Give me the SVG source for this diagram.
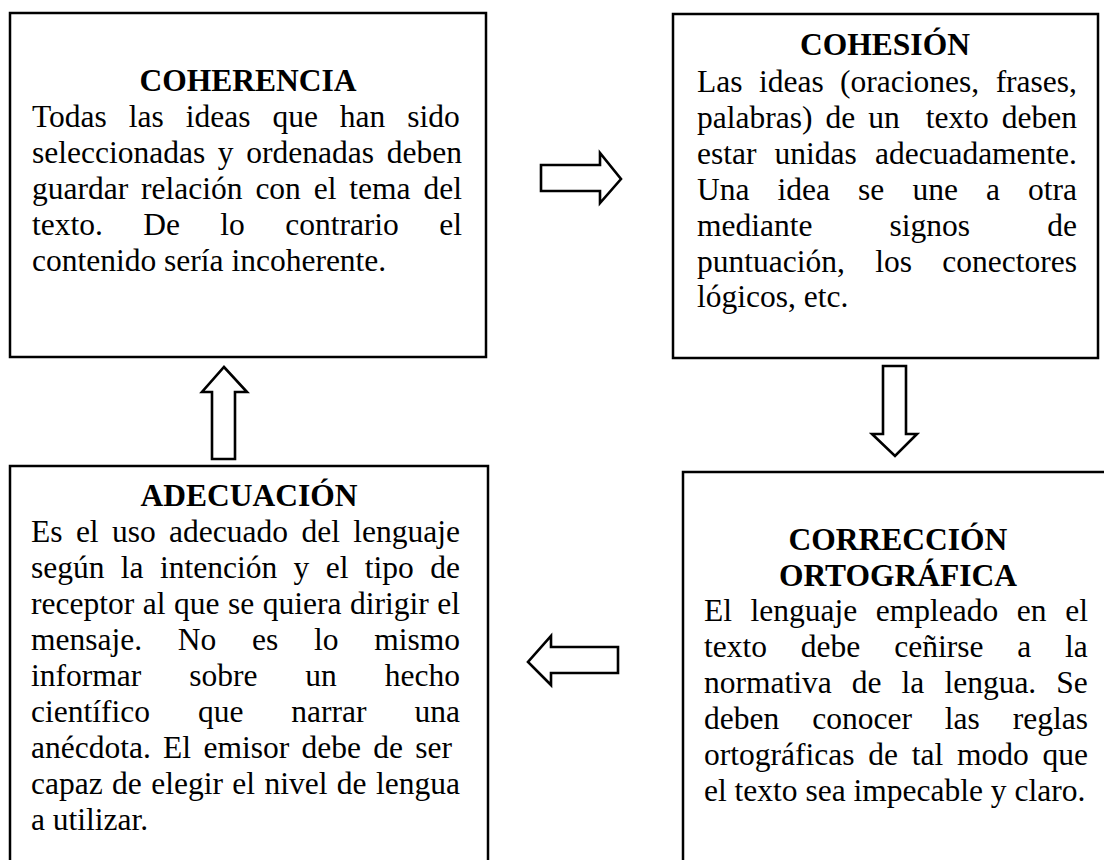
<svg xmlns="http://www.w3.org/2000/svg" width="1104" height="860" viewBox="0 0 1104 860">
<style>
.box{fill:#fff;stroke:#000;stroke-width:2.5}
.t{font-family:"Liberation Serif","Times New Roman",serif;font-size:31.5px;fill:#000}
.h{font-weight:bold;text-anchor:middle}
.arr{fill:#fff;stroke:#000;stroke-width:2.6;stroke-linejoin:miter}
</style>
<rect x="0" y="0" width="1104" height="860" fill="#fff"/>
<g id="coherencia">
<rect class="box" x="10" y="13" width="476" height="344"/>
<text class="t h" x="248" y="91">COHERENCIA</text>
<text class="t" x="32" y="127" word-spacing="14.09">Todas las ideas que han sido</text>
<text class="t" x="32" y="163" word-spacing="4.84">seleccionadas y ordenadas deben</text>
<text class="t" x="32" y="199" word-spacing="5">guardar relación con el tema del</text>
<text class="t" x="32" y="235" word-spacing="32.48">texto. De lo contrario el</text>
<text class="t" x="32" y="271">contenido sería incoherente.</text>
</g>
<g id="cohesion">
<rect class="box" x="673" y="14" width="425" height="344"/>
<text class="t h" x="885" y="55">COHESIÓN</text>
<text class="t" x="697" y="92" word-spacing="8.58">Las ideas (oraciones, frases,</text>
<text class="t" x="697" y="128" word-spacing="5.14" xml:space="preserve">palabras) de un  texto deben</text>
<text class="t" x="697" y="164" word-spacing="10.25">estar unidas adecuadamente.</text>
<text class="t" x="697" y="200" word-spacing="20.2">Una idea se une a otra</text>
<text class="t" x="697" y="236" word-spacing="69.26">mediante signos de</text>
<text class="t" x="697" y="272" word-spacing="22.47">puntuación, los conectores</text>
<text class="t" x="697" y="307">lógicos, etc.</text>
</g>
<g id="correccion">
<rect class="box" x="683" y="472" width="440" height="420"/>
<text class="t h" x="898" y="550">CORRECCIÓN</text>
<text class="t h" x="898" y="586">ORTOGRÁFICA</text>
<text class="t" x="704" y="621" word-spacing="10.7">El lenguaje empleado en el</text>
<text class="t" x="704" y="657" word-spacing="26">texto debe ceñirse a la</text>
<text class="t" x="704" y="693" word-spacing="12.2">normativa de la lengua. Se</text>
<text class="t" x="704" y="729" word-spacing="25.1">deben conocer las reglas</text>
<text class="t" x="704" y="765" word-spacing="5.9">ortográficas de tal modo que</text>
<text class="t" x="704" y="801">el texto sea impecable y claro.</text>
</g>
<g id="adecuacion">
<rect class="box" x="10" y="466" width="478" height="420"/>
<text class="t h" x="249" y="506">ADECUACIÓN</text>
<text class="t" x="31" y="542" word-spacing="5.5">Es el uso adecuado del lenguaje</text>
<text class="t" x="31" y="578" word-spacing="8.5">según la intención y el tipo de</text>
<text class="t" x="31" y="614" word-spacing="0.65">receptor al que se quiera dirigir el</text>
<text class="t" x="31" y="650" word-spacing="27.85">mensaje. No es lo mismo</text>
<text class="t" x="31" y="686" word-spacing="40.07">informar sobre un hecho</text>
<text class="t" x="31" y="722" word-spacing="40.07">científico que narrar una</text>
<text class="t" x="31" y="758" word-spacing="4.44">anécdota. El emisor debe de ser</text>
<text class="t" x="31" y="794" word-spacing="1.52">capaz de elegir el nivel de lengua</text>
<text class="t" x="31" y="830">a utilizar.</text>
</g>
<g id="connectors">
<polygon class="arr" points="541,165 600,165 600,153 621,179 600,203 600,191 541,191"/>
<polygon class="arr" points="883,366 906,366 906,434 917,434 895,456 872,434 883,434"/>
<polygon class="arr" points="618,647 551,647 551,636 528,662 551,685 551,673 618,673"/>
<polygon class="arr" points="212,459 212,392 202,392 224,367 247,392 235,392 235,459"/>
</g>
</svg>
